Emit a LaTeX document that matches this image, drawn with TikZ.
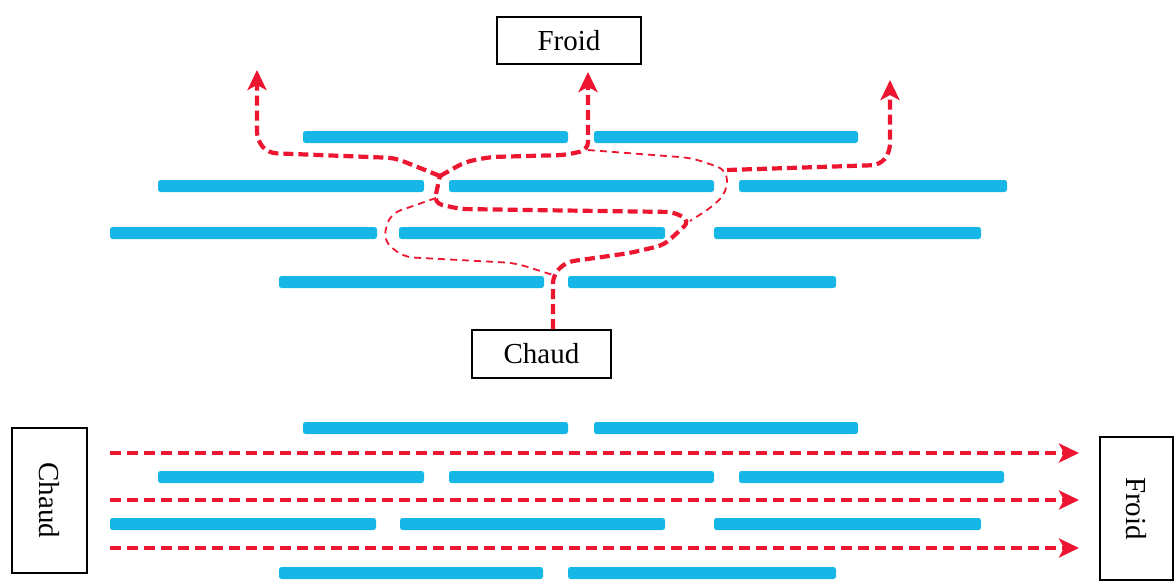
\documentclass[tikz,border=0pt]{standalone}
\usepackage{fontspec}
\setmainfont{Liberation Serif}
\usetikzlibrary{arrows.meta,calc}
\definecolor{rd}{RGB}{236,22,48}
\definecolor{bl}{RGB}{22,182,230}
\tikzset{
 bar/.style={fill=bl, draw=none, rounded corners=2.5pt},
 lbl/.style={draw=black, line width=1.8pt, inner sep=0pt, font=\fontsize{29}{31}\selectfont, fill=white},
 thickflow/.style={draw=rd, line width=4.2pt, dash pattern=on 10pt off 5pt, rounded corners=8pt},
 thinflow/.style={draw=rd, line width=1.8pt, dash pattern=on 7pt off 5pt, rounded corners=10pt},
 flowtip/.style={-{Stealth[length=20pt,width=19pt,inset=5pt]}},
 straightflow/.style={draw=rd, line width=3.6pt, dash pattern=on 11pt off 6pt},
}
\newcommand\blbar[3]{\fill[bar] (#1,#3-6) rectangle (#2,#3+6);}
\begin{document}
\begin{tikzpicture}[x=1pt,y=-1pt]
\useasboundingbox (0,0) rectangle (1176,584);
% ---- top section bars
\blbar{303}{568}{137}\blbar{594}{858}{137}
\blbar{158}{424}{186}\blbar{449}{714}{186}\blbar{739}{1007}{186}
\blbar{110}{377}{233}\blbar{399}{665}{233}\blbar{714}{981}{233}
\blbar{279}{544}{282}\blbar{568}{836}{282}
% ---- bottom section bars
\blbar{303}{568}{428}\blbar{594}{858}{428}
\blbar{158}{424}{477}\blbar{449}{714}{477}\blbar{739}{1004}{477}
\blbar{110}{376}{524}\blbar{400}{665}{524}\blbar{714}{981}{524}
\blbar{279}{543}{573}\blbar{568}{836}{573}
% ---- labels
\node[lbl, minimum width=144pt, minimum height=47pt] (froid) at (569,40.5) {Froid};
\node[lbl, minimum width=139pt, minimum height=48pt] (chaud) at (541.5,354) {Chaud};
\node[lbl, rotate=-90, minimum width=145pt, minimum height=75pt] (chaudB) at (49.5,500.5) {Chaud};
\node[lbl, rotate=-90, minimum width=143pt, minimum height=73pt] (froidB) at (1136.5,508.5) {Froid};
% ---- waypoints
\coordinate (jC) at (553,275);
\coordinate (jR) at (690,221);
\coordinate (jL) at (440,176);
\coordinate (jT) at (588,150);
\coordinate (jE) at (727,170);
\coordinate (tipL) at (257,70);
\coordinate (tipF) at (588,72);
\coordinate (tipR) at (890,80);
% ---- top flows
\draw[thickflow] (chaud.north -| jC) -- (jC) -- (566,262) -- (630,253) -- (664,245) -- (jR)
  -- (674,212) -- (600,211) -- (460,209) -- (434,203) -- (jL);
\draw[thickflow, flowtip] (jL) -- (395,158) -- (268,153) -- (257,140) -- (tipL);
\draw[thickflow, flowtip] (jL) -- (465,162) -- (490,157) -- (565,155) -- (jT) -- (tipF);
\draw[thickflow, flowtip] (jE) -- (880,165) -- (890,152) -- (tipR);
\draw[thinflow] (jT) -- (692,158) -- (jE) -- (727,192) -- (712,207) -- (jR);
\draw[thinflow] (436,198) -- (390,214) -- (383,240) -- (403,257) -- (515,263) -- (jC);
% ---- bottom flows
\coordinate (s1) at (110,453); \coordinate (e1) at (1079,453);
\coordinate (s2) at (110,500); \coordinate (e2) at (1079,500);
\coordinate (s3) at (110,548); \coordinate (e3) at (1079,548);
\draw[straightflow, flowtip] (s1) -- (e1);
\draw[straightflow, flowtip] (s2) -- (e2);
\draw[straightflow, flowtip] (s3) -- (e3);
\end{tikzpicture}
\end{document}
